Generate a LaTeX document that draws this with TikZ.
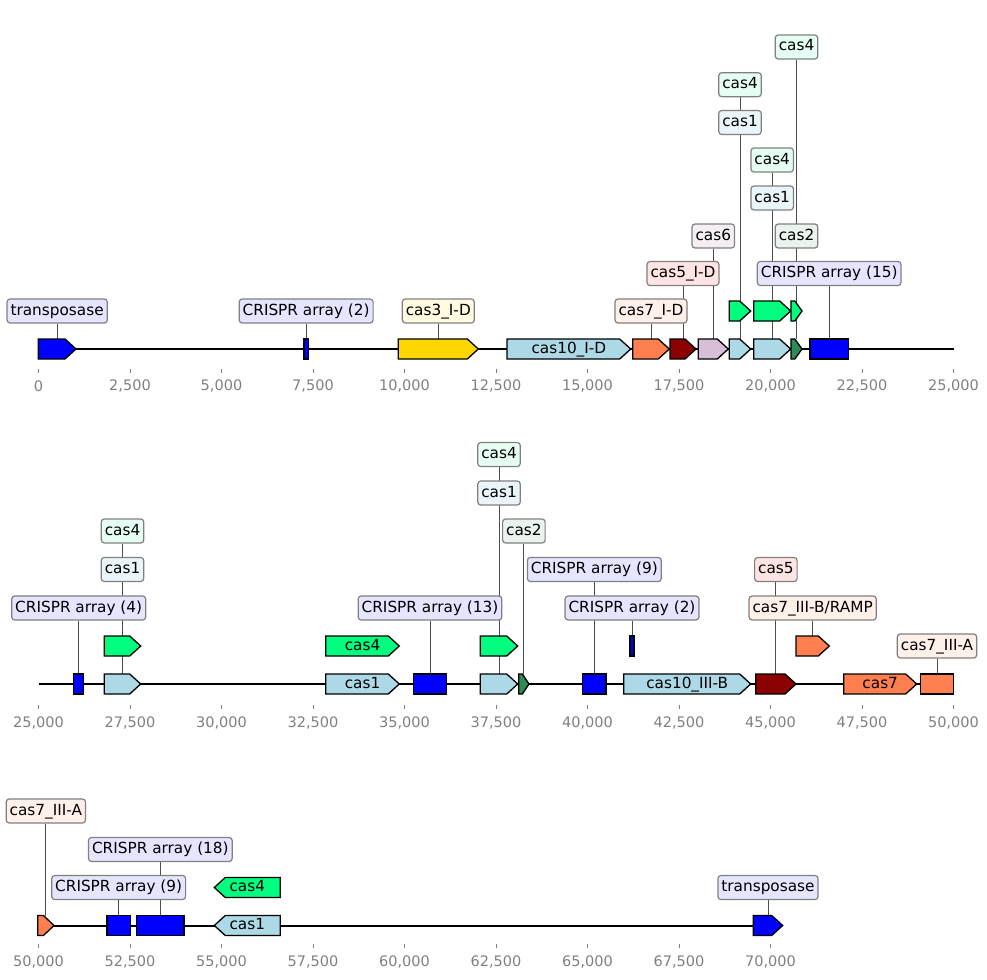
\documentclass[tikz,border=0pt]{standalone}
\usepackage{fontspec}
\setmainfont{DejaVu Sans}
\usepackage{xcolor}
\usepackage{tikz}
\usetikzlibrary{backgrounds}

\definecolor{gold}{HTML}{FFD700}
\definecolor{lightblue}{HTML}{ADD8E6}
\definecolor{coral}{HTML}{FF7F50}
\definecolor{darkred}{HTML}{8B0000}
\definecolor{thistle}{HTML}{D8BFD8}
\definecolor{springgreen}{HTML}{00FF7F}
\definecolor{seagreen}{HTML}{2E8B57}
\definecolor{rosado}{HTML}{FFE4E4}

% genes: nombre, inicio, fin, y, color
\newcommand{\genfwd}[5]{%
  \pgfmathsetmacro{\cabeza}{min(11,0.65*(#3-#2))}
  \draw[feat, fill=#5] (#2,#4-10) -- ({#3-\cabeza},#4-10) -- (#3,#4) -- ({#3-\cabeza},#4+10) -- (#2,#4+10) -- cycle;
  \coordinate (#1) at ({(#2+#3)/2},#4-10);}
\newcommand{\genrev}[5]{%
  \pgfmathsetmacro{\cabeza}{min(11,0.65*(#3-#2))}
  \draw[feat, fill=#5] (#3,#4-10) -- ({#2+\cabeza},#4-10) -- (#2,#4) -- ({#2+\cabeza},#4+10) -- (#3,#4+10) -- cycle;
  \coordinate (#1) at ({(#2+#3)/2},#4-10);}
\newcommand{\genblk}[5]{%
  \draw[feat, fill=#5] (#2,#4-10) rectangle (#3,#4+10);
  \coordinate (#1) at ({(#2+#3)/2},#4-10);}

\begin{document}
\begin{tikzpicture}[x=1pt, y=-1pt,
  feat/.style={draw=black, line width=1.3pt},
  lbl/.style={draw=gray, line width=1.2pt, rounded corners=3pt, inner xsep=3.5pt, inner ysep=4.5pt, text height=11.5pt, text depth=3.5pt, font=\fontsize{15.3}{18}\selectfont},
  inlab/.style={inner sep=0pt, text height=11.5pt, text depth=3.5pt, font=\fontsize{15.3}{18}\selectfont},
  lead/.style={draw=black!70, line width=0.9pt},
  eje/.style={draw=black, line width=2pt},
  marca/.style={draw=gray, line width=0.8pt},
  numero/.style={text=gray, inner sep=0pt, font=\fontsize{14.5}{16}\selectfont}]
\useasboundingbox (0,0) rectangle (987,979);

% Fila 1
\draw[eje] (38.5,349) -- (953.5,349);
\foreach \t [count=\i from 0] in {0,{2,500},{5,000},{7,500},{10,000},{12,500},{15,000},{17,500},{20,000},{22,500},{25,000}}{
  \draw[marca] ({38.5+91.5*\i},368.5) -- ++(0,4);
  \node[numero] (na\i) at ({38.5+91.5*\i},386) {\t};
}
\genfwd{r1tp}{38.3}{76}{349}{blue}
\genblk{r1cr2}{304}{308.3}{349}{blue}
\genfwd{r1cas3}{398.3}{478.3}{349}{gold}
\genfwd{r1cas10}{507}{630.7}{349}{lightblue}
\genfwd{r1cas7}{632.7}{669.3}{349}{coral}
\genfwd{r1cas5}{670}{696}{349}{darkred}
\genfwd{r1cas6}{698.3}{728.3}{349}{thistle}
\genfwd{r1cas1a}{729.3}{750.7}{349}{lightblue}
\genfwd{r1cas4a}{729.3}{750.7}{311}{springgreen}
\genfwd{r1cas1b}{753.7}{790.7}{349}{lightblue}
\genfwd{r1cas4b}{753.7}{790.7}{311}{springgreen}
\genfwd{r1cas2}{791}{802}{349}{seagreen}
\genfwd{r1cas4c}{791}{802}{311}{springgreen}
\genblk{r1cr15}{810}{848.3}{349}{blue}

\node[inlab] (t1cas10) at (r1cas10 |- 0,349) {cas10\_I-D};
\node[lbl, fill=blue!10] (l1tp) at (r1tp |- 0,311) {transposase};
\node[lbl, fill=blue!10] (l1cr2) at (r1cr2 |- 0,311) {CRISPR array (2)};
\node[lbl, fill=gold!12] (l1cas3) at (r1cas3 |- 0,311) {cas3\_I-D};
\node[lbl, fill=coral!12] (l1cas7) at (r1cas7 |- 0,311) {cas7\_I-D};
\node[lbl, fill=rosado] (l1cas5) at (r1cas5 |- 0,273.5) {cas5\_I-D};
\node[lbl, fill=thistle!25] (l1cas6) at (r1cas6 |- 0,236) {cas6};
\node[lbl, fill=blue!10] (l1cr15) at (r1cr15 |- 0,273.5) {CRISPR array (15)};
\node[lbl, fill=seagreen!10] (l1cas2) at (r1cas2 |- 0,236) {cas2};
\node[lbl, fill=lightblue!25] (l1cas1b) at (r1cas1b |- 0,198) {cas1};
\node[lbl, fill=springgreen!10] (l1cas4b) at (r1cas4b |- 0,160) {cas4};
\node[lbl, fill=lightblue!25] (l1cas1a) at (r1cas1a |- 0,122.5) {cas1};
\node[lbl, fill=springgreen!10] (l1cas4a) at (r1cas4a |- 0,84.7) {cas4};
\node[lbl, fill=springgreen!10] (l1cas4c) at (r1cas4c |- 0,47) {cas4};

\begin{scope}[on background layer]
\foreach \a/\b in {l1tp/r1tp, l1cr2/r1cr2, l1cas3/r1cas3, l1cas7/r1cas7, l1cas5/r1cas5, l1cas6/r1cas6, l1cr15/r1cr15, l1cas2/r1cas2, l1cas1b/r1cas1b, l1cas4b/r1cas4b, l1cas1a/r1cas1a, l1cas4a/r1cas4a, l1cas4c/r1cas4c}
  \draw[lead] (\a) -- (\b);
\end{scope}

% Fila 2
\draw[eje] (38.5,684) -- (953.5,684);
\foreach \t [count=\i from 0] in {{25,000},{27,500},{30,000},{32,500},{35,000},{37,500},{40,000},{42,500},{45,000},{47,500},{50,000}}{
  \draw[marca] ({38.5+91.5*\i},705) -- ++(0,4);
  \node[numero] (nb\i) at ({38.5+91.5*\i},723) {\t};
}
\genblk{r2cr4}{73.7}{83.7}{684}{blue}
\genfwd{r2cas1a}{104.3}{140.7}{684}{lightblue}
\genfwd{r2cas4a}{104.3}{140.7}{646}{springgreen}
\genfwd{r2cas1b}{325.7}{399.3}{684}{lightblue}
\genfwd{r2cas4b}{325.7}{399.3}{646}{springgreen}
\genblk{r2cr13}{413.3}{446.7}{684}{blue}
\genfwd{r2cas1c}{480.3}{517.7}{684}{lightblue}
\genfwd{r2cas4c}{480.3}{517.7}{646}{springgreen}
\genfwd{r2cas2}{518.7}{529}{684}{seagreen}
\genblk{r2cr9}{582.7}{606}{684}{blue}
\genfwd{r2cas10}{623.7}{750.7}{684}{lightblue}
\genblk{r2cr2}{630}{634}{646}{blue}
\genfwd{r2cas5}{755.7}{796}{684}{darkred}
\genfwd{r2ramp}{796}{829.3}{646}{coral}
\genfwd{r2cas7}{843.7}{916.7}{684}{coral}
\genblk{r2cas7a}{920.7}{953.3}{684}{coral}

\node[inlab] (t2cas1b) at (r2cas1b |- 0,684) {cas1};
\node[inlab] (t2cas4b) at (r2cas4b |- 0,646) {cas4};
\node[inlab] (t2cas10) at (r2cas10 |- 0,684) {cas10\_III-B};
\node[inlab] (t2cas7) at (r2cas7 |- 0,684) {cas7};
\node[lbl, fill=blue!10] (l2cr4) at (r2cr4 |- 0,608) {CRISPR array (4)};
\node[lbl, fill=lightblue!25] (l2cas1a) at (r2cas1a |- 0,569.5) {cas1};
\node[lbl, fill=springgreen!10] (l2cas4a) at (r2cas4a |- 0,531) {cas4};
\node[lbl, fill=blue!10] (l2cr13) at (r2cr13 |- 0,608) {CRISPR array (13)};
\node[lbl, fill=lightblue!25] (l2cas1c) at (r2cas1c |- 0,493) {cas1};
\node[lbl, fill=springgreen!10] (l2cas4c) at (r2cas4c |- 0,454.5) {cas4};
\node[lbl, fill=seagreen!10] (l2cas2) at (r2cas2 |- 0,531) {cas2};
\node[lbl, fill=blue!10] (l2cr9) at (r2cr9 |- 0,569.5) {CRISPR array (9)};
\node[lbl, fill=blue!10] (l2cr2) at (r2cr2 |- 0,608) {CRISPR array (2)};
\node[lbl, fill=rosado] (l2cas5) at (r2cas5 |- 0,569.5) {cas5};
\node[lbl, fill=coral!12] (l2ramp) at (r2ramp |- 0,608) {cas7\_III-B/RAMP};
\node[lbl, fill=coral!12] (l2cas7a) at (r2cas7a |- 0,646) {cas7\_III-A};

\begin{scope}[on background layer]
\foreach \a/\b in {l2cr4/r2cr4, l2cas1a/r2cas1a, l2cas4a/r2cas4a, l2cr13/r2cr13, l2cas1c/r2cas1c, l2cas4c/r2cas4c, l2cas2/r2cas2, l2cr9/r2cr9, l2cr2/r2cr2, l2cas5/r2cas5, l2ramp/r2ramp, l2cas7a/r2cas7a}
  \draw[lead] (\a) -- (\b);
\end{scope}

% Fila 3
\draw[eje] (38.5,925.5) -- (768,925.5);
\foreach \t [count=\i from 0] in {{50,000},{52,500},{55,000},{57,500},{60,000},{62,500},{65,000},{67,500},{70,000}}{
  \draw[marca] ({38.5+91.5*\i},944) -- ++(0,4);
  \node[numero] (nc\i) at ({38.5+91.5*\i},962) {\t};
}
\genfwd{r3cas7}{37.7}{54}{925.5}{coral}
\genblk{r3cr9}{107}{130.3}{925.5}{blue}
\genblk{r3cr18}{136.7}{184}{925.5}{blue}
\genrev{r3cas1}{214.3}{280.3}{925.5}{lightblue}
\genrev{r3cas4}{214.3}{280.3}{887.5}{springgreen}
\genfwd{r3tp}{753.3}{782.7}{925.5}{blue}

\node[inlab] (t3cas1) at (r3cas1 |- 0,925.5) {cas1};
\node[inlab] (t3cas4) at (r3cas4 |- 0,887.5) {cas4};
\node[lbl, fill=coral!12] (l3cas7) at (r3cas7 |- 0,811) {cas7\_III-A};
\node[lbl, fill=blue!10] (l3cr9) at (r3cr9 |- 0,887.5) {CRISPR array (9)};
\node[lbl, fill=blue!10] (l3cr18) at (r3cr18 |- 0,849.5) {CRISPR array (18)};
\node[lbl, fill=blue!10] (l3tp) at (r3tp |- 0,887.5) {transposase};

\begin{scope}[on background layer]
\foreach \a/\b in {l3cas7/r3cas7, l3cr9/r3cr9, l3cr18/r3cr18, l3tp/r3tp}
  \draw[lead] (\a) -- (\b);
\end{scope}
\end{tikzpicture}
\end{document}
